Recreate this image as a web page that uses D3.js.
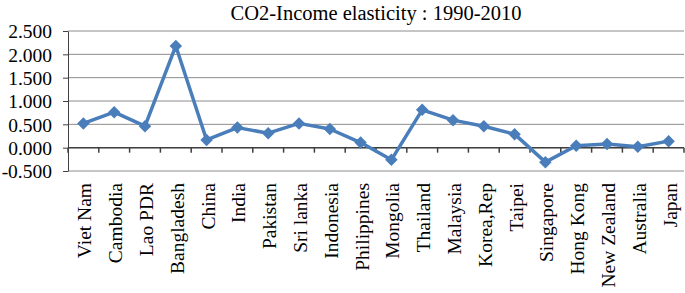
<!DOCTYPE html>
<html>
<head>
<meta charset="utf-8">
<script src="https://cdn.jsdelivr.net/npm/d3@7"></script>
<style>
  body { margin: 0; background: #fff; }
  text { font-family: "Liberation Serif", "Times New Roman", serif; }
</style>
</head>
<body>
<div id="chart"></div>
<script>
// Data
const countries = ["Viet Nam", "Cambodia", "Lao PDR", "Bangladesh", "China", "India", "Pakistan",
  "Sri lanka", "Indonesia", "Philippines", "Mongolia", "Thailand", "Malaysia", "Korea,Rep",
  "Taipei", "Singapore", "Hong Kong", "New Zealand", "Australia", "Japan"];
const elasticity = [0.52, 0.76, 0.46, 2.18, 0.165, 0.43, 0.31, 0.52, 0.40, 0.11,
  -0.26, 0.81, 0.59, 0.46, 0.29, -0.31, 0.04, 0.08, 0.02, 0.14];
const yTicks = [-0.5, 0, 0.5, 1, 1.5, 2, 2.5];

const serif = '"Liberation Serif", "Times New Roman", serif';
const W = 685, H = 293;
const margin = { top: 31, right: 1, bottom: 122, left: 68 };
const width = W - margin.left - margin.right;
const height = H - margin.top - margin.bottom;

const svg = d3.select("#chart").append("svg")
  .attr("width", W).attr("height", H);

svg.append("text")
  .attr("x", 376).attr("y", 20)
  .attr("text-anchor", "middle")
  .style("font-family", serif)
  .style("font-size", "20.5px")
  .text("CO2-Income elasticity : 1990-2010");

const g = svg.append("g").attr("transform", `translate(${margin.left},${margin.top})`);

const x = d3.scaleBand().domain(countries).range([0, width]);
const y = d3.scaleLinear().domain([-0.5, 2.5]).range([height, 0]);

// gridlines
g.selectAll(".grid").data(yTicks).join("line")
  .attr("x1", 0).attr("x2", width)
  .attr("y1", d => y(d)).attr("y2", d => y(d))
  .attr("stroke", "#8c8c8c").attr("stroke-width", 1);

// y axis (hyphen instead of unicode minus, like the original)
const fmt = d => d3.format(".3f")(d).replace("\u2212", "-");
const yAxis = g.append("g").call(d3.axisLeft(y).tickValues(yTicks)
  .tickFormat(fmt).tickSize(5).tickSizeOuter(0));
yAxis.attr("font-family", null).attr("font-size", null);
yAxis.select(".domain").attr("stroke", "#404040");
yAxis.selectAll(".tick line").attr("stroke", "#404040");
yAxis.selectAll("text")
  .style("font-family", serif)
  .style("font-size", "19.5px").attr("fill", "#000")
  .attr("x", -16).attr("dy", "0.35em");

// x axis at zero, ticks between categories
const xAxis = g.append("g").attr("transform", `translate(0,${y(0)})`);
xAxis.append("line").attr("x1", 0).attr("x2", width)
  .attr("stroke", "#404040").attr("stroke-width", 1.5);
xAxis.selectAll(".xt").data(d3.range(countries.length + 1)).join("line")
  .attr("x1", i => i * x.step()).attr("x2", i => i * x.step())
  .attr("y1", 0).attr("y2", 5)
  .attr("stroke", "#404040").attr("stroke-width", 1.5);

// category labels
g.selectAll(".cat").data(countries).join("text")
  .attr("transform", d => `translate(${x(d) + x.bandwidth() / 2 + 8},${height + 12}) rotate(-90)`)
  .attr("text-anchor", "end")
  .style("font-family", serif)
  .style("font-size", "19.5px")
  .text(d => d);

// line
const line = d3.line()
  .x((d, i) => x(countries[i]) + x.bandwidth() / 2)
  .y(d => y(d));
g.append("path").datum(elasticity)
  .attr("d", line)
  .attr("fill", "none")
  .attr("stroke", "#4a7ebb")
  .attr("stroke-width", 3.5)
  .attr("stroke-linejoin", "round");

// diamond markers: squares turned 45 degrees
g.selectAll(".pt").data(elasticity).join("path")
  .attr("d", d3.symbol(d3.symbolSquare, 78))
  .attr("transform", (d, i) => `translate(${x(countries[i]) + x.bandwidth() / 2},${y(d)}) rotate(45)`)
  .attr("fill", "#4a7ebb");
</script>
</body>
</html>
